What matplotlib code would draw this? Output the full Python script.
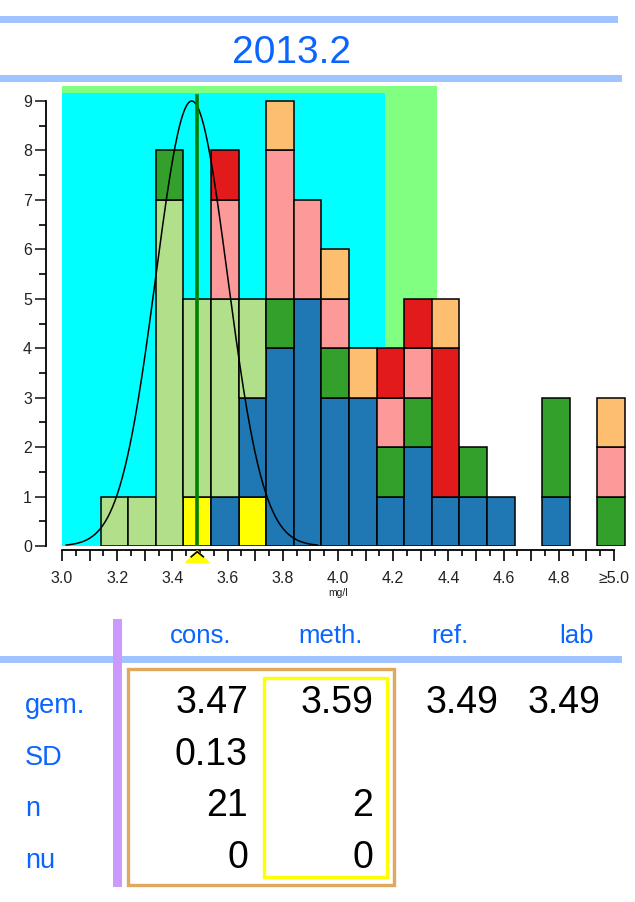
import numpy as np
import matplotlib
matplotlib.use("Agg")
import matplotlib.pyplot as plt
from matplotlib.patches import Rectangle

plt.rcParams['font.family'] = ['Liberation Sans', 'DejaVu Sans']

# ---- data ----
title = "2013.2"
bin_centers = [3.19, 3.29, 3.39, 3.49, 3.59, 3.69, 3.79, 3.89, 3.99, 4.09,
               4.19, 4.29, 4.39, 4.49, 4.59, 4.79, 4.99]
yellow_n     = [0, 0, 0, 1, 0, 1, 0, 0, 0, 0, 0, 0, 0, 0, 0, 0, 0]
blue_n       = [0, 0, 0, 0, 1, 2, 4, 5, 3, 3, 1, 2, 1, 1, 1, 1, 0]
lightgreen_n = [1, 1, 7, 4, 4, 2, 0, 0, 0, 0, 0, 0, 0, 0, 0, 0, 0]
darkgreen_n  = [0, 0, 1, 0, 0, 0, 1, 0, 1, 0, 1, 1, 0, 1, 0, 2, 1]
pink_n       = [0, 0, 0, 0, 2, 0, 3, 2, 1, 0, 1, 1, 0, 0, 0, 0, 1]
red_n        = [0, 0, 0, 0, 1, 0, 0, 0, 0, 0, 1, 1, 3, 0, 0, 0, 0]
orange_n     = [0, 0, 0, 0, 0, 0, 1, 0, 1, 1, 0, 0, 1, 0, 0, 0, 1]

xtick_pos = [3.0, 3.2, 3.4, 3.6, 3.8, 4.0, 4.2, 4.4, 4.6, 4.8, 5.0]
xtick_labels = ["3.0", "3.2", "3.4", "3.6", "3.8", "4.0", "4.2", "4.4", "4.6", "4.8", "\u22655.0"]

ref_value = 3.49
cons_mean, cons_sd = 3.47, 0.13
curve_peak = 9.0
cyan_range = (3.0, 4.17, 9.16)
green_range = (3.0, 4.36, 9.30)

col_headers = ["cons.", "meth.", "ref.", "lab"]
row_labels = ["gem.", "SD", "n", "nu"]
cons_vals = ["3.47", "0.13", "21", "0"]
meth_vals = ["3.59", "", "2", "0"]
ref_vals = ["3.49", "", "", ""]
lab_vals = ["3.49", "", "", ""]

W, H = 635, 902
fig = plt.figure(figsize=(W / 100, H / 100), dpi=100)

# overlay in pixel coordinates for title/table decoration
ov = fig.add_axes([0, 0, 1, 1])
ov.set_xlim(0, W)
ov.set_ylim(H, 0)
ov.axis("off")

blue_txt = "#0a64ff"
rule = "#a0c4ff"
ov.add_patch(Rectangle((0, 16), 618, 7, color=rule, lw=0))
ov.add_patch(Rectangle((0, 75), 622, 7, color=rule, lw=0))
ov.text(292, 63, title, color=blue_txt, fontsize=28, ha="center", va="baseline")

# table
ov.add_patch(Rectangle((0, 656), 622, 7, color=rule, lw=0))
ov.add_patch(Rectangle((113, 619), 9, 268, color="#cc99ff", lw=0))
ov.add_patch(Rectangle((128, 669), 266, 216, fill=False, ec="#e0a95f", lw=2.4))
ov.add_patch(Rectangle((264, 678), 123, 199, fill=False, ec="#ffff00", lw=2.4))

for x, h in zip([170, 298, 431, 559], col_headers):
    ov.text(x, 643, h, color=blue_txt, fontsize=18.5, ha="left", va="baseline")
row_y = [713, 765, 816, 868]
for y, lab in zip(row_y, row_labels):
    ov.text(25, y, lab, color=blue_txt, fontsize=19.5, ha="left", va="baseline")
for x, col in zip([248, 373, 498, 600], [cons_vals, meth_vals, ref_vals, lab_vals]):
    for y, v in zip(row_y, col):
        ov.text(x, y, v, color="black", fontsize=27, ha="right", va="baseline")

# ---- histogram axes ----
x_left, x_right = 46, 630
y_top, y_bot = 80, 546
px_per_x = 276.0
px_per_y = 49.44
ax = fig.add_axes([x_left / W, 1 - y_bot / H, (x_right - x_left) / W, (y_bot - y_top) / H])
ax.set_xlim(3.0 - (62 - x_left) / px_per_x, 3.0 + (x_right - 62) / px_per_x)
ax.set_ylim(0, (y_bot - y_top) / px_per_y)
ax.patch.set_alpha(0)

ax.add_patch(Rectangle((green_range[0], 0), green_range[1] - green_range[0], green_range[2],
                       color="#80ff80", lw=0, zorder=0))
ax.add_patch(Rectangle((cyan_range[0], 0), cyan_range[1] - cyan_range[0], cyan_range[2],
                       color="#00ffff", lw=0, zorder=0.5))

series = [(yellow_n, "#ffff00"), (blue_n, "#1f78b4"), (lightgreen_n, "#b2df8a"),
          (darkgreen_n, "#33a02c"), (pink_n, "#fb9a99"), (red_n, "#e31a1c"),
          (orange_n, "#fdbf6f")]
centers = np.array(bin_centers)
bottom = np.zeros(len(centers))
for counts, col in series:
    c = np.array(counts, dtype=float)
    m = c > 0
    ax.bar(centers[m], c[m], bottom=bottom[m], width=0.1, color=col,
           edgecolor="black", linewidth=1.1, zorder=2)
    bottom += c

xs = np.linspace(cons_mean - 3.5 * cons_sd, cons_mean + 3.5 * cons_sd, 300)
ax.plot(xs, curve_peak * np.exp(-0.5 * ((xs - cons_mean) / cons_sd) ** 2),
        color="black", lw=1.1, zorder=3)

ax.plot([ref_value, ref_value], [0, 9.11], color="#008000", lw=2.6, zorder=4)

# reference marker under the axis
hw = 11.7 / px_per_x
ax.fill([ref_value - hw, ref_value, ref_value + hw],
        [-11.7 / px_per_y * 1.0 - 0.1, -4.7 / px_per_y, -11.7 / px_per_y * 1.0 - 0.1],
        color="#ffff00", clip_on=False, zorder=5)
cw = 6 / px_per_x
ax.plot([ref_value - cw, ref_value, ref_value + cw],
        [-10.7 / px_per_y, -5.7 / px_per_y, -10.7 / px_per_y],
        color="black", lw=1.2, clip_on=False, zorder=6)

for s in ["top", "right"]:
    ax.spines[s].set_visible(False)
ax.spines["left"].set_bounds(0, 9)
ax.spines["bottom"].set_bounds(3.0, 5.0)
ax.spines["bottom"].set_position(("outward", 3))
for s in ["left", "bottom"]:
    ax.spines[s].set_linewidth(1.3)

ax.set_yticks(range(0, 10))
ax.set_yticks(np.arange(0.5, 9, 1.0), minor=True)
ax.set_xticks(np.arange(3.0, 5.001, 0.1))
ax.set_xticklabels([])
ax.set_xticks(np.arange(3.05, 5.0, 0.1), minor=True)
ax.tick_params(axis="y", which="major", length=8, width=1.2, labelsize=11.5, pad=2, colors="#222222")
ax.tick_params(axis="y", which="minor", length=5, width=1.2)
ax.tick_params(axis="x", which="major", length=8, width=1.2)
ax.tick_params(axis="x", which="minor", length=4.5, width=1.2)
for xp, lab in zip(xtick_pos, xtick_labels):
    ax.annotate(lab, (xp, 0), xytext=(0, -18), textcoords="offset points",
                ha="center", va="top", fontsize=11.5, color="#222222", annotation_clip=False)
ax.annotate("mg/l", (4.0, 0), xytext=(0, -30.5), textcoords="offset points",
            ha="center", va="top", fontsize=7.5, color="#222222", annotation_clip=False)

fig.savefig("out.png", dpi=100)
